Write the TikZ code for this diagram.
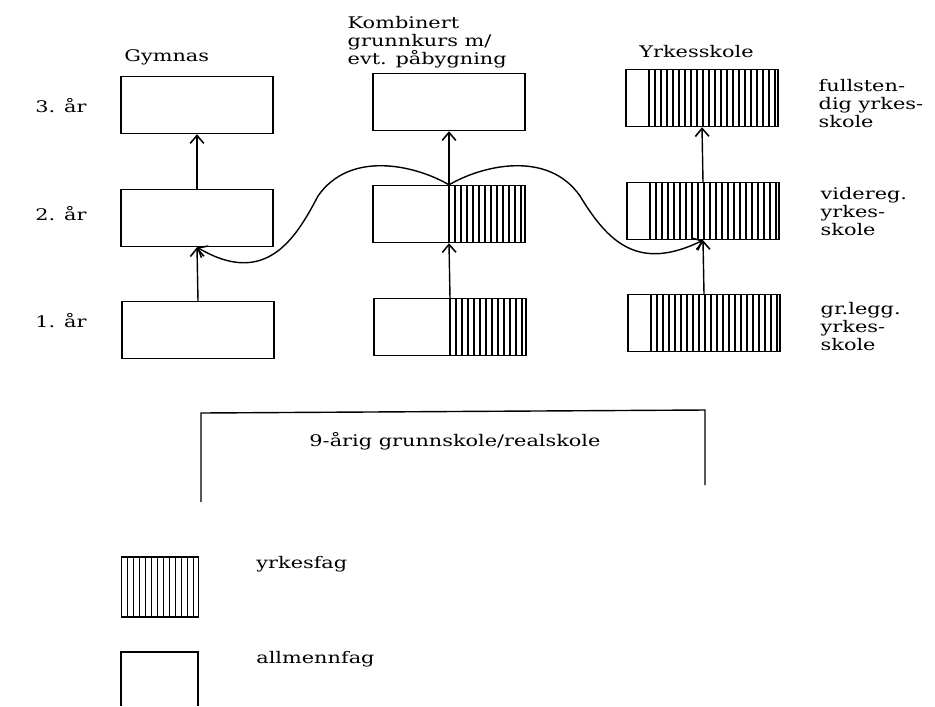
\documentclass[tikz,border=0pt]{standalone}
\usepackage{fontspec}
\setmainfont{DejaVu Serif}[FakeStretch=1.3]
\usetikzlibrary{arrows.meta}

\begin{document}
\begin{tikzpicture}[x=0.025cm, y=-0.025cm, line width=1pt,
        font=\fontsize{11.4pt}{12.6pt}\selectfont,
        >={Straight Barb[length=2mm,width=3.4mm,line width=1.1pt]},
        box/.style={draw, minimum width=3.8cm, minimum height=1.425cm, inner sep=0pt},
        hatch/.style={path picture={\foreach \k in {0,...,25}
            \draw[line width=0.9pt] ([xshift=#1+\k*0.15cm]path picture bounding box.south west)
                -- ([xshift=#1+\k*0.15cm]path picture bounding box.north west);}},
        lbl/.style={anchor=north west, align=left, inner sep=0pt}]
        \useasboundingbox (0,0) rectangle (935,706);
        % headings
        \node[anchor=west] (gymnas) at (119,57) {Gymnas};
        \node[lbl] (komb) at (347,16) {Kombinert\\grunnkurs m/\\evt. påbygning};
        \node[anchor=west] (yrke) at (634,52) {Yrkesskole};
        \node[anchor=west] (aar3) at (30,106) {3. år};
        \node[anchor=west] (aar2) at (30,214) {2. år};
        \node[anchor=west] (aar1) at (30,321) {1. år};
        % boxes
        \node[box] (g3) at (197,105) {};
        \node[box] (g2) at (197,218) {};
        \node[box] (g1) at (198,330) {};
        \node[box] (m3) at (449,102) {};
        \node[box, hatch=1.9cm] (m2) at (449,214) {};
        \node[box, hatch=1.9cm] (m1) at (450,327) {};
        \node[box, hatch=0.575cm] (r3) at (702,98) {};
        \node[box, hatch=0.575cm] (r2) at (703,211) {};
        \node[box, hatch=0.575cm] (r1) at (704,323) {};
        \node[lbl] (full) at (818,79) {fullsten-\\dig yrkes-\\skole};
        \node[lbl] (vid) at (820,187) {videreg.\\yrkes-\\skole};
        \node[lbl] (grl) at (820,302) {gr.legg.\\yrkes-\\skole};
        % arrows
        \draw[->] (g1.north) -- (g2.south);
        \draw[->] (g2.north) -- (g3.south);
        \draw[->] (m1.north) -- (m2.south);
        \draw[->] (m2.north) -- (m3.south);
        \draw[->] (r1.north) -- (r2.south);
        \draw[->] (r2.north) -- (r3.south);
        \coordinate (lbend) at (318,196);
        \coordinate (rbend) at (580,196);
        \draw[->] (m2.north) .. controls (415,165) and (350,150) .. (lbend)
            .. controls (296,238) and (266,288) .. (g2.south);
        \draw[->] (m2.north) .. controls (483,165) and (548,150) .. (rbend)
            .. controls (608,242) and (638,272) .. (r2.south);
        % grunnskole
        \draw (201,502) -- (201,413) -- (705,410) -- (705,485);
        \node (grunn) at (455,441) {9-årig grunnskole/realskole};
        % legend
        \node[box, hatch=0cm, minimum width=1.925cm, minimum height=1.5cm] (leg1) at (160,587) {};
        \node[anchor=west] (yrkesfag) at (251,564) {yrkesfag};
        \draw (121,706) -- (121,652) -- (198,652) -- (198,706);
        \node[anchor=west] (allmenn) at (251,659) {allmennfag};
    \end{tikzpicture}
\end{document}
